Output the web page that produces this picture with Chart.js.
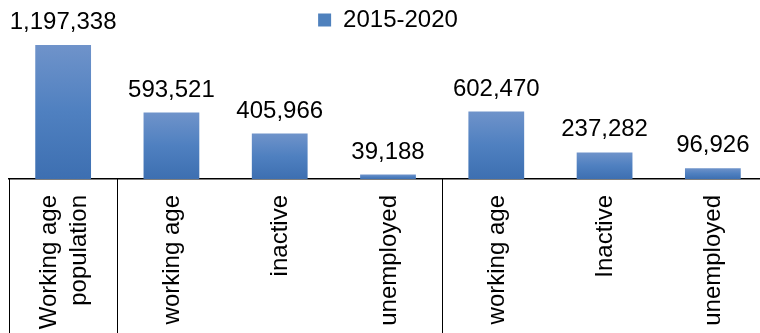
<!DOCTYPE html>
<html>
<head>
<meta charset="utf-8">
<script src="https://cdn.jsdelivr.net/npm/chart.js@4.4.1/dist/chart.umd.min.js"></script>
<style>
  html, body { margin: 0; padding: 0; background: #fff; overflow: hidden; }
  #wrap { width: 770px; height: 333px; }
</style>
</head>
<body>
<div id="wrap"><canvas id="chartPop"></canvas></div>
<script>
var categories = [
    ['Working age', 'population'],
    'working age',
    'inactive',
    'unemployed',
    'working age',
    'Inactive',
    'unemployed'
];
var seriesName = '2015-2020';
var values = [1197338, 593521, 405966, 39188, 602470, 237282, 96926];
// group boundaries along the x axis (left edge of these categories)
var groupStarts = [0, 1, 4];

var FONT = 'Liberation Sans, Arial, sans-serif';

function barGradient(context) {
    var chart = context.chart;
    if (!chart.chartArea) return '#4f81bd';
    var y = chart.scales.y;
    var v = context.raw !== undefined ? context.raw : values[context.dataIndex];
    var top = y.getPixelForValue(v);
    var bottom = y.getPixelForValue(0);
    if (!isFinite(top) || bottom - top < 1) return '#4f81bd';
    var g = chart.ctx.createLinearGradient(0, top, 0, bottom);
    g.addColorStop(0, '#6f93ca');
    g.addColorStop(0.5, '#4f80c0');
    g.addColorStop(1, '#3d6fb1');
    return g;
}

var valueLabels = {
    id: 'valueLabels',
    afterDatasetsDraw: function(chart) {
        var ctx = chart.ctx;
        var meta = chart.getDatasetMeta(0);
        ctx.save();
        ctx.fillStyle = '#000';
        ctx.font = '24px ' + FONT;
        ctx.textAlign = 'center';
        ctx.textBaseline = 'alphabetic';
        meta.data.forEach(function(bar, i) {
            ctx.fillText(values[i].toLocaleString('en-US'), bar.x, bar.y - 16);
        });
        ctx.restore();
    }
};

// vertical category names under the axis, multi-line names centred on the tick
var categoryLabels = {
    id: 'categoryLabels',
    afterDraw: function(chart) {
        var ctx = chart.ctx;
        var x = chart.scales.x;
        var lineGap = 30;
        ctx.save();
        ctx.fillStyle = '#000';
        ctx.font = '24px ' + FONT;
        ctx.textAlign = 'right';
        ctx.textBaseline = 'middle';
        categories.forEach(function(cat, i) {
            var lines = Array.isArray(cat) ? cat : [cat];
            var px = x.getPixelForValue(i);
            lines.forEach(function(line, j) {
                var lx = px + (j - (lines.length - 1) / 2) * lineGap;
                ctx.save();
                ctx.translate(lx, chart.chartArea.bottom + 16);
                ctx.rotate(-Math.PI / 2);
                ctx.fillText(line, 0, 1);
                ctx.restore();
            });
        });
        ctx.restore();
    }
};

var groupLines = {
    id: 'groupLines',
    afterDraw: function(chart) {
        var ctx = chart.ctx;
        var x = chart.scales.x;
        var half = (x.getPixelForValue(1) - x.getPixelForValue(0)) / 2;
        ctx.save();
        ctx.strokeStyle = '#000';
        ctx.lineWidth = 1;
        groupStarts.forEach(function(i) {
            var px = Math.round(x.getPixelForValue(i) - half) + 0.5;
            ctx.beginPath();
            ctx.moveTo(px, chart.chartArea.bottom);
            ctx.lineTo(px, chart.height);
            ctx.stroke();
        });
        ctx.restore();
    }
};

new Chart(document.getElementById('chartPop'), {
    type: 'bar',
    data: {
        labels: categories,
        datasets: [{
            label: seriesName,
            data: values,
            backgroundColor: barGradient,
            categoryPercentage: 1,
            barPercentage: 0.515
        }]
    },
    options: {
        responsive: true,
        maintainAspectRatio: false,
        animation: false,
        layout: { padding: { left: 9, right: 3, top: 0, bottom: 0 } },
        plugins: {
            tooltip: { enabled: false },
            legend: {
                position: 'top',
                labels: {
                    color: '#000',
                    font: { family: FONT, size: 24 },
                    boxWidth: 13,
                    boxHeight: 13,
                    padding: 8,
                    generateLabels: function(chart) {
                        var items = Chart.defaults.plugins.legend.labels.generateLabels(chart);
                        items.forEach(function(it) {
                            it.fillStyle = '#4f81bd';
                            it.strokeStyle = '#4f81bd';
                            it.lineWidth = 0;
                        });
                        return items;
                    }
                }
            }
        },
        scales: {
            x: {
                grid: { display: false, drawTicks: false },
                border: { display: true, color: '#000', width: 1.5 },
                ticks: { display: false },
                afterFit: function(scale) { scale.height = 154; }
            },
            y: {
                display: false,
                min: 0,
                max: 1225000
            }
        }
    },
    plugins: [valueLabels, categoryLabels, groupLines]
});
</script>
</body>
</html>
